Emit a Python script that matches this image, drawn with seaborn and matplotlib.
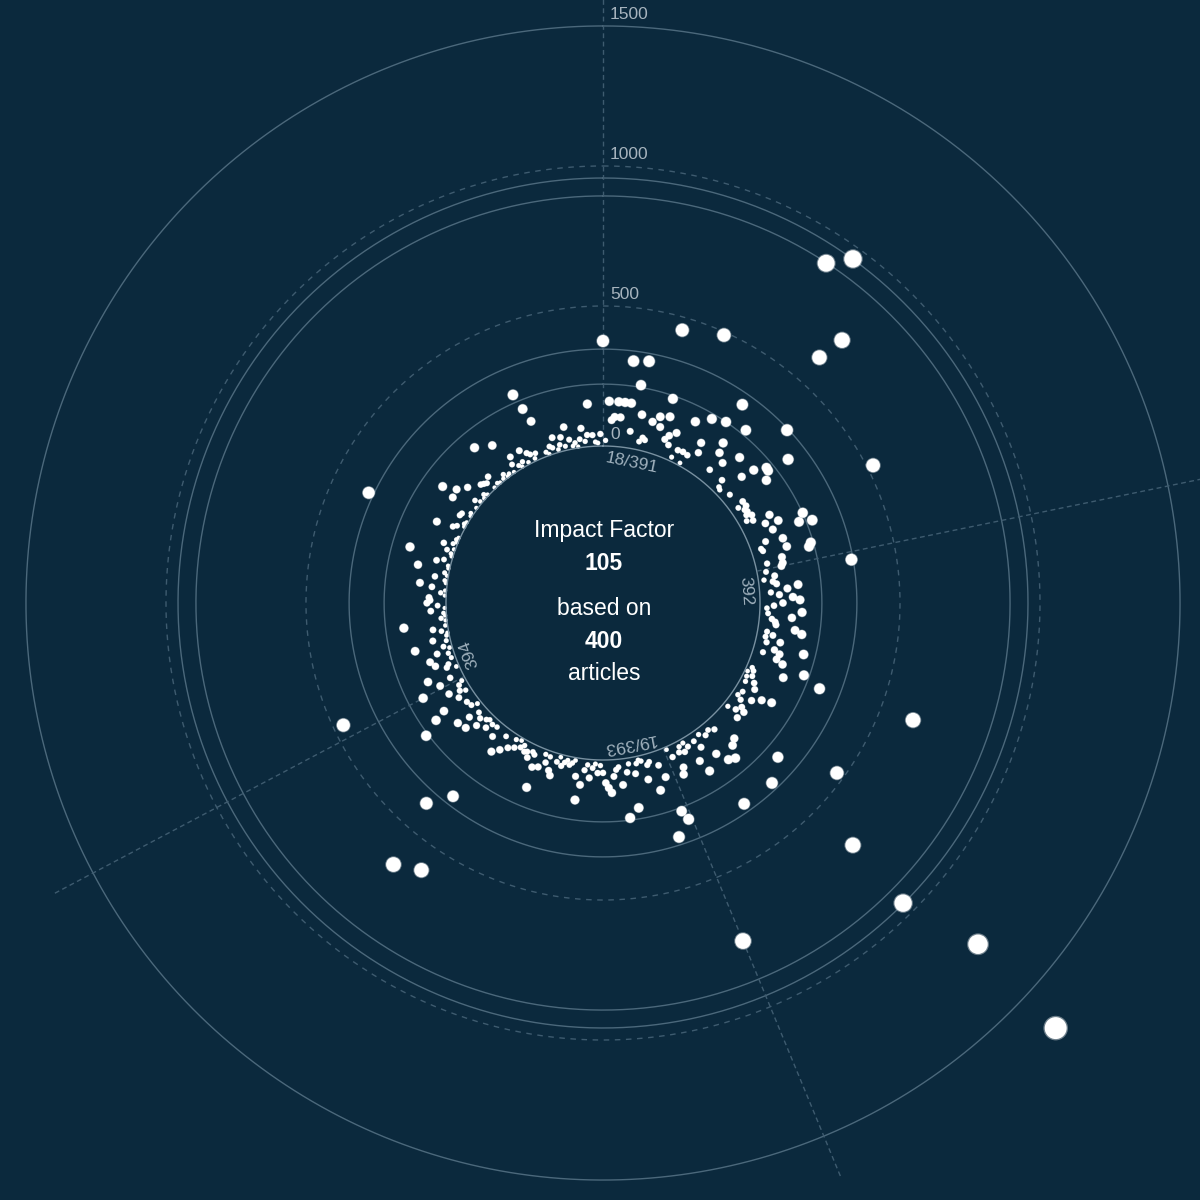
import numpy as np
import pandas as pd
import matplotlib.pyplot as plt
import seaborn as sns

# citações por artigo, na ordem das páginas, uma lista por número da revista
issue_391 = [375, 20, 160, 93, 105, 160, 105, 160, 310, 160,
             60, 229, 318, 126, 30, 46, 40, 110, 454, 135,
             100, 210, 146, 64, 82, 50, 101, 489, 15, 47,
             166, 50, 10, 47, 203, 110, 75, 891, 221, 305,
             958, 154, 118, 49, 240, 97, 608, 708, 152, 50,
             25, 20, 341, 109, 157, 35, 197, 195, 276, 169,
             56, 30, 57, 45, 50, 40, 57, 30, 51, 112,
             522, 85, 131, 222, 100, 197, 243, 60, 122, 36,
             40, 126, 212, 202, 99, 42, 97]
issue_392 = [90, 32, 340, 60, 20, 51, 63, 139, 100, 40,
             70, 118, 143, 82, 50, 25, 151, 30, 116, 45,
             58, 62, 132, 158, 34, 57, 32, 88, 40, 179,
             74, 96, 37, 91, 117, 202, 623, 271, 136, 20,
             29, 10, 33, 15, 50, 20, 63, 139, 104, 30,
             74, 22, 40, 472, 59, 76, 47, 18, 70, 272,
             1250, 1657, 682, 955, 113, 321, 127, 41, 168, 28,
             156, 37, 113, 20, 316, 62, 30, 150, 101, 35,
             15, 46, 20, 38, 93, 116, 43, 10]
issue_393 = [746, 270, 234, 100,
             52, 318, 139, 30, 39, 90, 20, 14, 25, 60,
             182, 21, 50, 213, 93, 28, 37, 60, 118, 100,
             82, 46, 20, 47, 15, 30, 66, 20, 40, 94,
             150, 66, 10, 21, 30, 15, 25, 40, 10, 30,
             84, 68, 20, 45, 17, 69, 152, 78, 34, 27,
             54, 35, 40, 20, 33, 10, 45, 17, 58, 593,
             80, 28, 103, 313, 636, 58, 22, 393, 26, 50,
             20, 28, 68, 41, 102, 30, 67, 112, 14, 34,
             229, 40, 168, 126, 55, 20, 39, 78, 31, 15]
issue_394 = [166, 92, 47, 464, 125, 10, 43, 33, 79, 15,
             92, 20, 59, 10, 30, 132, 15, 62, 10, 5,
             25, 54, 8, 156, 5, 20, 5, 10, 55, 5,
             30, 68, 57, 61, 5, 20, 5, 53, 97, 5,
             10, 47, 5, 15, 114, 5, 8, 53, 28, 157,
             5, 10, 28, 5, 47, 15, 5, 10, 5, 364,
             100, 41, 29, 5, 10, 5, 39, 36, 5, 10,
             95, 147, 5, 101, 25, 8, 75, 5, 15, 5,
             47, 41, 35, 5, 49, 10, 5, 159, 8, 20,
             5, 10, 127, 5, 31, 57, 15, 5, 20, 60,
             8, 40, 30, 10, 26, 249, 189, 137, 15, 5,
             30, 22, 57, 10, 25, 50, 15, 83, 35, 10,
             20, 5, 30, 68, 20, 42, 152, 40, 15, 11,
             43]

issue_names = ["18/391", "392", "19/393", "394"]
axis_values = [0, 500, 1000, 1500]
solid_rings = [221, 346, 893, 957, 1500]
dashed_rings = [500, 1000]
impact_factor = 105

bg = "#0b293d"

# Monta a tabela: um ângulo por artigo, igualmente espaçados
issues = [issue_391, issue_392, issue_393, issue_394]
n_articles = sum(len(v) for v in issues)
step = 2 * np.pi / n_articles

rows = []
starts = []
idx = 0
for name, vals in zip(issue_names, issues):
    starts.append(idx * step)
    for c in vals:
        rows.append({"theta": idx * step, "cites": c, "issue": name})
        idx += 1
df = pd.DataFrame(rows)
df["dot"] = (0.72 * 2 * (1.5 + 0.233 * np.sqrt(df["cites"]))) ** 2
df["glow"] = df["dot"] * 1.25
max_cites = df["cites"].max()

sns.set_theme(style="white", rc={"axes.facecolor": bg, "figure.facecolor": bg,
                                 "axes.edgecolor": bg})
plt.rcParams["font.family"] = ["Liberation Sans", "DejaVu Sans"]

fig = plt.figure(figsize=(12, 12), dpi=100)
ax = fig.add_axes([3 / 1200, -3 / 1200, 1, 1], projection="polar")
ax.set_theta_zero_location("N")
ax.set_theta_direction(-1)
ax.set_ylim(0, 1582)
ax.set_rorigin(-560.7)
ax.grid(False)
ax.set_xticks([])
ax.set_yticks([])
for sp in ax.spines.values():
    sp.set_visible(False)
ax.patch.set_visible(False)

# Anéis
full = np.linspace(0, 2 * np.pi, 720)
ax.plot(full, np.zeros_like(full), color="#7890a0", lw=1.0, clip_on=False, zorder=5)
for v in solid_rings:
    ax.plot(full, np.full_like(full, v), color="#4b687b", lw=1.0)
for v in dashed_rings:
    ax.plot(full, np.full_like(full, v), color="#3e5b6f", lw=1.0, ls=(0, (4, 4)))
# Divisões entre os números (até o artigo mais citado)
for s in starts:
    ax.plot([s, s], [0, max_cites], color="#3e5b6f", lw=1.0,
            ls=(0, (3.5, 2.5)), clip_on=False)

# Pontos (brilho + ponto)
sns.scatterplot(data=df, x="theta", y="cites", size="glow",
                sizes=(df["glow"].min(), df["glow"].max()),
                size_norm=(df["glow"].min(), df["glow"].max()),
                color="white", alpha=0.4, linewidth=0, legend=False,
                clip_on=False, zorder=3, ax=ax)
sns.scatterplot(data=df, x="theta", y="cites", size="dot",
                sizes=(df["dot"].min(), df["dot"].max()),
                size_norm=(df["dot"].min(), df["dot"].max()),
                color="white", linewidth=0, legend=False,
                clip_on=False, zorder=4, ax=ax)
ax.set_xlabel("")
ax.set_ylabel("")

# Rótulos do eixo radial
for v in axis_values:
    ax.annotate(str(v), xy=(0, v), xytext=(5, 3), textcoords="offset points",
                color="#a7b4be", fontsize=12.5, ha="left", va="bottom")

# Rótulos dos números da revista, por dentro do anel interno
r_px = 143
for name, s in zip(issue_names, starts):
    w = (len(name) - 0.5 * name.count("/")) * 9.3
    ang = s + np.radians(1.5) + (w / 2) / r_px
    ax.text(ang, -50, name, rotation=-np.degrees(ang), rotation_mode="anchor",
            ha="center", va="center", color="#9fb0bc", fontsize=12.5)

# Texto central
cx = 604 / 1200
fig.text(cx, 1 - 530 / 1200, "Impact Factor", ha="center", va="center",
         color="white", fontsize=16.5)
fig.text(cx, 1 - 563 / 1200, str(impact_factor), ha="center", va="center",
         color="white", fontsize=16.5, fontweight="bold")
fig.text(cx, 1 - 609 / 1200, "based on", ha="center", va="center",
         color="white", fontsize=16.5)
fig.text(cx, 1 - 642 / 1200, str(n_articles), ha="center", va="center",
         color="white", fontsize=16.5, fontweight="bold")
fig.text(cx, 1 - 674 / 1200, "articles", ha="center", va="center",
         color="white", fontsize=16.5)

fig.savefig("out.png", dpi=100, facecolor=bg)
